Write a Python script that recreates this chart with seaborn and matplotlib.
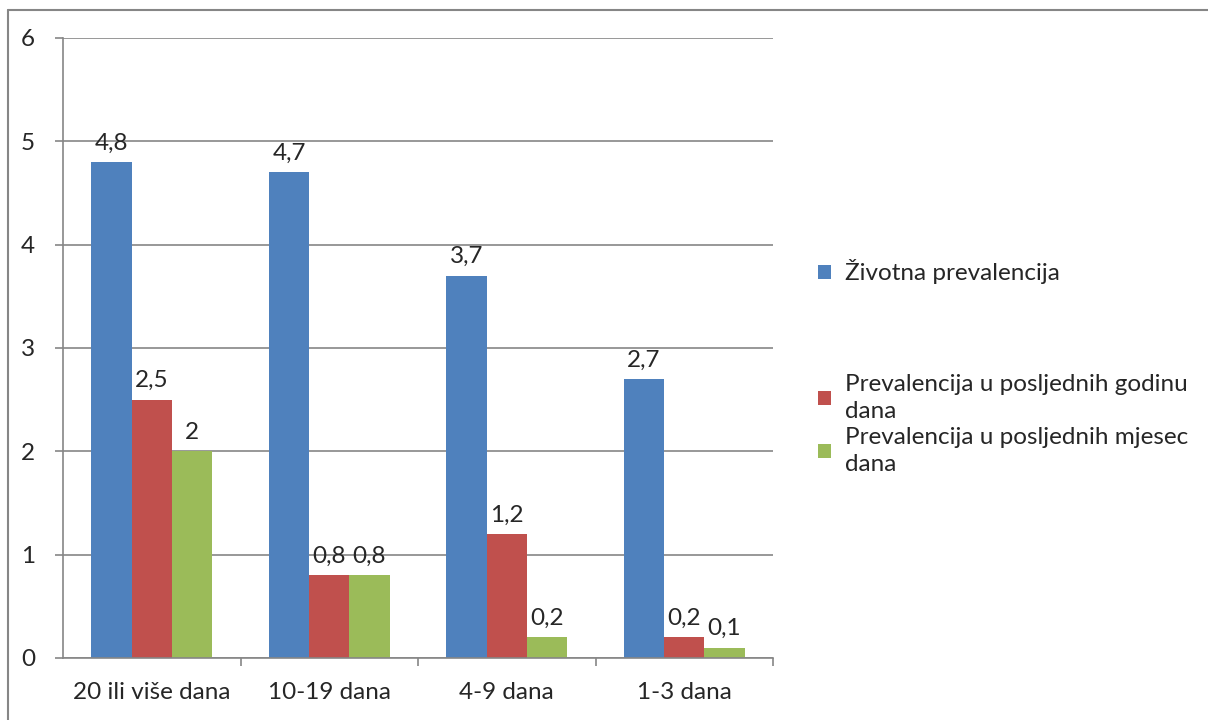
import numpy as np
import pandas as pd
import matplotlib
matplotlib.use("Agg")
import matplotlib.pyplot as plt
import seaborn as sns
from matplotlib.lines import Line2D

categories = ["20 ili više dana", "10-19 dana", "4-9 dana", "1-3 dana"]
series = ["Životna prevalencija",
          "Prevalencija u posljednih godinu\ndana",
          "Prevalencija u posljednih mjesec\ndana"]
zivotna = [4.8, 4.7, 3.7, 2.7]
godina = [2.5, 0.8, 1.2, 0.2]
mjesec = [2.0, 0.8, 0.2, 0.1]
colors = ["#4F81BD", "#C0504D", "#9BBB59"]

rows = []
for s, vals in zip(series, [zivotna, godina, mjesec]):
    for c, v in zip(categories, vals):
        rows.append({"kat": c, "serija": s, "val": v})
df = pd.DataFrame(rows)

sns.set_style("white")
plt.rcParams['font.family'] = ['Lato', 'DejaVu Sans']
grey = "#868686"
fs = 17.5

fig = plt.figure(figsize=(12.08, 7.2), dpi=100)
ax = fig.add_axes([63/1208, 62/720, 710/1208, 620/720])
sns.barplot(data=df, x="kat", y="val", hue="serija", palette=colors,
            width=0.68, ax=ax, saturation=1, legend=True, linewidth=0)

for cont in ax.containers:
    labs = [f"{b.get_height():g}".replace(".", ",") for b in cont]
    ax.bar_label(cont, labels=labs, padding=6, fontsize=fs)

ax.set_ylim(0, 6)
ax.set_xlim(-0.5, 3.5)
ax.set_yticks(range(0, 7))
ax.set_xlabel("")
ax.set_ylabel("")
ax.yaxis.grid(True, color=grey, lw=1.2)
ax.set_axisbelow(True)
for s in ["top", "right"]:
    ax.spines[s].set_visible(False)
for s in ["left", "bottom"]:
    ax.spines[s].set_color(grey)
    ax.spines[s].set_linewidth(1.2)
ax.tick_params(axis="y", left=True, length=6, color=grey, width=1.2, labelsize=fs, pad=14)
ax.tick_params(axis="x", bottom=False, labelsize=fs, pad=14)
# minor ticks at category boundaries
ax.set_xticks([0.5, 1.5, 2.5, 3.5], minor=True)
ax.tick_params(axis="x", which="minor", bottom=True, length=6, color=grey, width=1.2)

handles, labels = ax.get_legend_handles_labels()
ax.get_legend().remove()
ypos = [272, 398, 451]
for h, l, y in zip(handles, labels, ypos):
    leg = fig.legend([h], [l], loc="center left", bbox_to_anchor=(818/1208, 1 - y/720),
                     frameon=False, fontsize=fs, handlelength=0.55, handleheight=0.55,
                     handletextpad=0.55, borderaxespad=0, borderpad=0)
    for t in leg.get_texts():
        t.set_linespacing(1.4)

# outer chart border (top and left visible)
fig.add_artist(Line2D([8/1208, 8/1208], [0, 1 - 10/720], color=grey, lw=1.5, transform=fig.transFigure))
fig.add_artist(Line2D([8/1208, 1], [1 - 10/720, 1 - 10/720], color=grey, lw=1.5, transform=fig.transFigure))

fig.savefig("out.png", dpi=100)
